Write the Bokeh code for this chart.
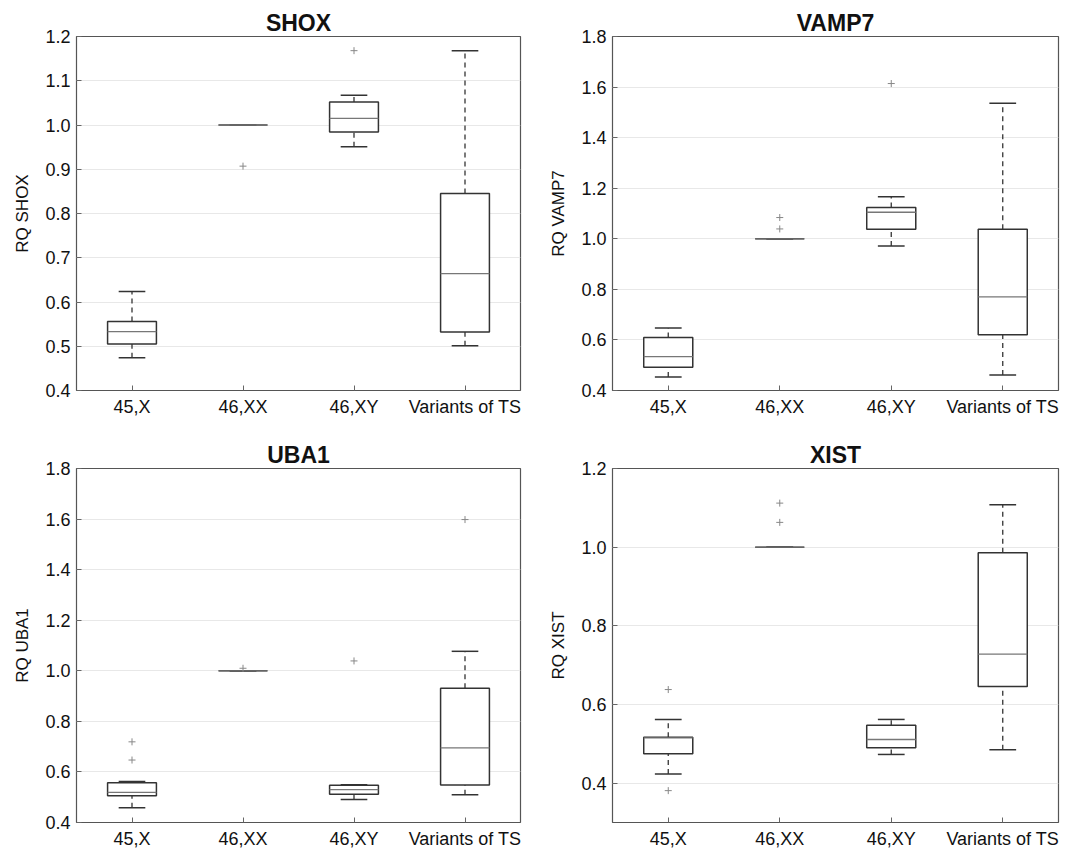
from bokeh.plotting import figure
from bokeh.layouts import column, row
from bokeh.models import (FactorRange, Range1d, ColumnDataSource, FixedTicker,
                          PrintfTickFormatter)
from bokeh.transform import dodge
from bokeh.embed import file_html
from bokeh.resources import INLINE

groups = ["45,X", "46,XX", "46,XY", "Variants of TS"]

# SHOX
shox_lower = [0.474, 1.0, 0.951, 0.501]
shox_q1 = [0.505, 1.0, 0.984, 0.532]
shox_median = [0.533, 1.0, 1.015, 0.664]
shox_q3 = [0.556, 1.0, 1.052, 0.845]
shox_upper = [0.624, 1.0, 1.067, 1.168]
shox_out_group = ["46,XX", "46,XY"]
shox_out_value = [0.907, 1.168]

# VAMP7
vamp7_lower = [0.453, 1.0, 0.971, 0.461]
vamp7_q1 = [0.492, 1.0, 1.038, 0.620]
vamp7_median = [0.534, 1.0, 1.105, 0.770]
vamp7_q3 = [0.610, 1.0, 1.124, 1.038]
vamp7_upper = [0.647, 1.0, 1.166, 1.536]
vamp7_out_group = ["46,XX", "46,XX", "46,XY"]
vamp7_out_value = [1.084, 1.039, 1.614]

# UBA1
uba1_lower = [0.458, 1.0, 0.491, 0.510]
uba1_q1 = [0.506, 1.0, 0.512, 0.548]
uba1_median = [0.519, 1.0, 0.530, 0.695]
uba1_q3 = [0.557, 1.0, 0.547, 0.931]
uba1_upper = [0.562, 1.0, 0.549, 1.077]
uba1_out_group = ["45,X", "45,X", "46,XX", "46,XY", "Variants of TS"]
uba1_out_value = [0.719, 0.647, 1.01, 1.039, 1.598]

# XIST
xist_lower = [0.423, 1.0, 0.473, 0.485]
xist_q1 = [0.475, 1.0, 0.490, 0.646]
xist_median = [0.515, 1.0, 0.511, 0.728]
xist_q3 = [0.517, 1.0, 0.547, 0.986]
xist_upper = [0.562, 1.0, 0.562, 1.108]
xist_out_group = ["45,X", "45,X", "46,XX", "46,XX"]
xist_out_value = [0.638, 0.381, 1.112, 1.063]

FONT = "Liberation Sans"
BOX_W = 0.44
CAP_W = 0.24
LINE = "#333333"


def style_axis(ax):
    ax.major_label_text_font = FONT
    ax.major_label_text_font_size = "18px"
    ax.major_label_text_color = "#111111"
    ax.axis_line_color = None
    ax.major_tick_in = 5
    ax.major_tick_out = 0
    ax.major_tick_line_color = "#666666"
    ax.minor_tick_line_color = None


def panel(title, ylabel, ymin, ymax, ticks, lower, q1, med, q3, upper, og, ov,
          fw, bl, br, bt, bb):
    p = figure(x_range=FactorRange(*groups, range_padding=0), y_range=Range1d(ymin, ymax),
               frame_width=fw, frame_height=354, min_border_left=bl, min_border_right=br,
               min_border_top=bt, min_border_bottom=bb,
               output_backend="svg", toolbar_location=None, title=title)
    p.title.text_font = FONT
    p.title.text_font_size = "23px"
    p.title.text_font_style = "bold"
    p.title.align = "center"
    p.title.text_color = "#111111"
    p.title.standoff = 2
    src = ColumnDataSource(dict(g=groups, lower=lower, q1=q1, med=med, q3=q3, upper=upper))
    # whiskers
    p.segment(x0="g", y0="q3", x1="g", y1="upper", source=src, line_color=LINE,
              line_width=1.3, line_dash="5 4")
    p.segment(x0="g", y0="lower", x1="g", y1="q1", source=src, line_color=LINE,
              line_width=1.3, line_dash="5 4")
    # caps
    for col in ("upper", "lower"):
        p.segment(x0=dodge("g", -CAP_W / 2, range=p.x_range), y0=col,
                  x1=dodge("g", CAP_W / 2, range=p.x_range), y1=col,
                  source=src, line_color=LINE, line_width=1.5)
    # boxes
    p.vbar(x="g", width=BOX_W, bottom="q1", top="q3", source=src,
           fill_color="white", line_color=LINE, line_width=1.5)
    # medians
    p.segment(x0=dodge("g", -BOX_W / 2, range=p.x_range), y0="med",
              x1=dodge("g", BOX_W / 2, range=p.x_range), y1="med",
              source=src, line_color="#777777", line_width=1.3)
    # outliers
    p.scatter(x=og, y=ov, marker="cross", size=7, line_color="#888888", line_width=1)

    p.xgrid.grid_line_color = None
    p.ygrid.grid_line_color = "#e8e8e8"
    p.ygrid.ticker = FixedTicker(ticks=ticks)
    p.yaxis.ticker = FixedTicker(ticks=ticks)
    p.yaxis.formatter = PrintfTickFormatter(format="%.1f")
    p.yaxis.axis_label = ylabel
    p.yaxis.axis_label_text_font = FONT
    p.yaxis.axis_label_text_font_size = "17px"
    p.yaxis.axis_label_text_font_style = "normal"
    p.yaxis.axis_label_text_color = "#111111"
    p.yaxis.axis_label_standoff = 10
    style_axis(p.xaxis[0])
    style_axis(p.yaxis[0])
    p.xaxis.major_label_standoff = 6
    p.yaxis.major_label_standoff = 6

    p.outline_line_color = "#555555"
    p.outline_line_width = 1.2
    p.outline_line_alpha = 1
    return p


p1 = panel("SHOX", "RQ SHOX", 0.4, 1.2, [0.4, 0.5, 0.6, 0.7, 0.8, 0.9, 1.0, 1.1, 1.2],
           shox_lower, shox_q1, shox_median, shox_q3, shox_upper, shox_out_group, shox_out_value,
           444, 76, 16, 36, 36)
p2 = panel("VAMP7", "RQ VAMP7", 0.4, 1.8, [0.4, 0.6, 0.8, 1.0, 1.2, 1.4, 1.6, 1.8],
           vamp7_lower, vamp7_q1, vamp7_median, vamp7_q3, vamp7_upper, vamp7_out_group, vamp7_out_value,
           446, 76, 2, 36, 36)
p3 = panel("UBA1", "RQ UBA1", 0.4, 1.8, [0.4, 0.6, 0.8, 1.0, 1.2, 1.4, 1.6, 1.8],
           uba1_lower, uba1_q1, uba1_median, uba1_q3, uba1_upper, uba1_out_group, uba1_out_value,
           444, 76, 16, 42, 22)
p4 = panel("XIST", "RQ XIST", 0.3, 1.2, [0.4, 0.6, 0.8, 1.0, 1.2],
           xist_lower, xist_q1, xist_median, xist_q3, xist_upper, xist_out_group, xist_out_value,
           446, 76, 2, 42, 22)

layout = column(row(p1, p2, spacing=0), row(p3, p4, spacing=0), spacing=0)
open("out.html", "w").write(file_html(layout, INLINE))
